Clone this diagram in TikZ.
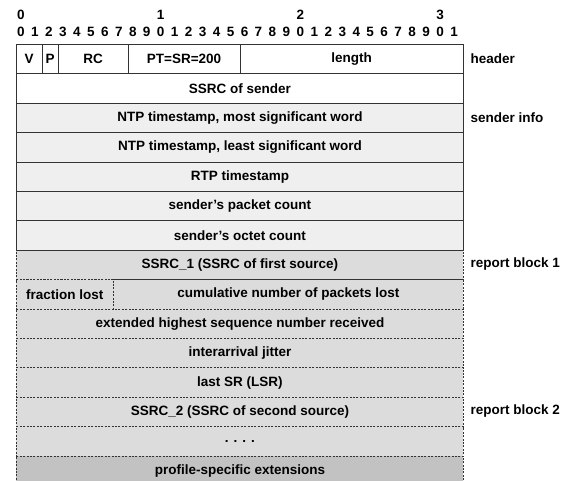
\documentclass[tikz,border=0pt]{standalone}
\usepackage{fontspec}
\setmainfont{Liberation Sans}
\usetikzlibrary{positioning}

\definecolor{infogray}{HTML}{EFEFEF}
\definecolor{blockgray}{HTML}{DCDCDC}
\definecolor{extgray}{HTML}{C2C2C2}

\tikzset{
    field/.style={draw=black!80, line width=0.9pt, anchor=north west,
        minimum height=29.4pt, inner sep=0pt, font=\bfseries\fontsize{13.5}{14}\selectfont},
    infofield/.style={field, fill=infogray},
    blockfield/.style={field, fill=blockgray, dash pattern=on 2pt off 1.4pt},
    side/.style={anchor=west, font=\bfseries\fontsize{13.5}{14}\selectfont},
    bitnum/.style={anchor=base, font=\bfseries\fontsize{13.5}{14}\selectfont}
}

\begin{document}
\begin{tikzpicture}[x=1pt, y=-1pt]
        \useasboundingbox (0,0) rectangle (568,481);
        % bit numbers
        \foreach \i in {0,...,31} {
            \pgfmathtruncatemacro{\d}{mod(\i,10)}
            \node[bitnum] (bit\i) at (16+13.97*\i+5, 37) {\d};
        }
        \foreach \i/\t in {0/0,10/1,20/2,30/3}
            \node[bitnum] (ten\t) at (16+13.97*\i+5, 20) {\t};

        % report blocks
        \node[blockfield, minimum width=447pt] (ssrc1) at (16,249.8) {SSRC\_1 (SSRC of first source)};
        \node[blockfield, minimum width=96.7pt] (frac) at (16,279.2) {fraction lost};
        \node[blockfield, minimum width=350.3pt] (cum) at (112.7,279.2) {cumulative number of packets lost};
        \node[blockfield, minimum width=447pt] (ehsn) at (16,308.6) {extended highest sequence number received};
        \node[blockfield, minimum width=447pt] (jitter) at (16,338) {interarrival jitter};
        \node[blockfield, minimum width=447pt] (lsr) at (16,367.4) {last SR (LSR)};
        \node[blockfield, minimum width=447pt] (ssrc2) at (16,396.8) {SSRC\_2 (SSRC of second source)};
        \node[blockfield, minimum width=447pt] (dots) at (16,426.2) {. . . .};
        \node[blockfield, minimum width=447pt, fill=extgray] (ext) at (16,455.6) {profile-specific extensions};

        % header and sender info
        \node[field, minimum width=25.5pt] (v) at (16,44) {V};
        \node[field, minimum width=16.2pt] (p) at (41.5,44) {P};
        \node[field, minimum width=70pt] (rc) at (57.7,44) {RC};
        \node[field, minimum width=111.8pt] (pt) at (127.7,44) {PT=SR=200};
        \node[field, minimum width=223.5pt] (len) at (239.5,44) {length};
        \node[field, minimum width=447pt] (ssrc) at (16,73.4) {SSRC of sender};
        \node[infofield, minimum width=447pt] (ntpmsw) at (16,102.8) {NTP timestamp, most significant word};
        \node[infofield, minimum width=447pt] (ntplsw) at (16,132.2) {NTP timestamp, least significant word};
        \node[infofield, minimum width=447pt] (rtpts) at (16,161.6) {RTP timestamp};
        \node[infofield, minimum width=447pt] (pkts) at (16,191) {sender's packet count};
        \node[infofield, minimum width=447pt] (octs) at (16,220.4) {sender's octet count};

        \node[side] (lhdr) at (467,58.7) {header};
        \node[side] (linfo) at (467,117.5) {sender info};
        \node[side] (lrb1) at (467,264.5) {report block 1};
        \node[side] (lrb2) at (467,411.5) {report block 2};
    \end{tikzpicture}
\end{document}
